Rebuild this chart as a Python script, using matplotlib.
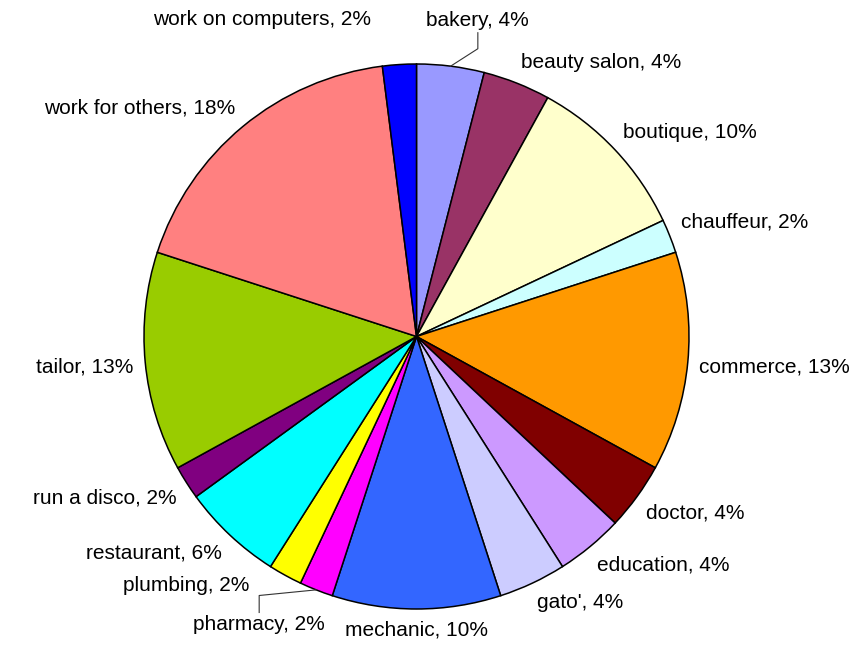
import numpy as np
import matplotlib.pyplot as plt

plt.rcParams['font.family'] = ['Liberation Sans', 'DejaVu Sans']

# Slices, clockwise from 12 o'clock
jobs = ["bakery", "beauty salon", "boutique", "chauffeur", "commerce", "doctor",
        "education", "gato'", "mechanic", "pharmacy", "plumbing", "restaurant",
        "run a disco", "tailor", "work for others", "work on computers"]
shares = [4, 4, 10, 2, 13, 4, 4, 4, 10, 2, 2, 6, 2, 13, 18, 2]
colors = ["#9999FF", "#993366", "#FFFFCC", "#CCFFFF", "#FF9900", "#800000",
          "#CC99FF", "#CCCCFF", "#3366FF", "#FF00FF", "#FFFF00", "#00FFFF",
          "#800080", "#99CC00", "#FF8080", "#0000FF"]

# labels dragged away from their default spot (in pie radii)
moved = {"bakery": (0.0, 0.092),
         "work on computers": (-0.40, 0.088),
         "pharmacy": (0.048, -0.055),
         "plumbing": (-0.11, 0.033)}
leader = {"bakery": "up", "pharmacy": "down"}

fig = plt.figure(figsize=(8.55, 6.54), dpi=100)
fig.patch.set_facecolor("white")
ax = fig.add_axes([144 / 855, 45 / 654, 545 / 855, 545 / 654])

wedges, _ = ax.pie(shares, colors=colors, startangle=90, counterclock=False,
                   radius=1, wedgeprops=dict(edgecolor="black", linewidth=1.1))
ax.set_xlim(-1, 1)
ax.set_ylim(-1, 1)
ax.set_aspect("auto")
ax.axis("off")

renderer = fig.canvas.get_renderer()
px = 545 / 2  # pixels per unit radius
gap = 0.042

for w, job, pct in zip(wedges, jobs, shares):
    theta = np.deg2rad((w.theta1 + w.theta2) / 2)
    c, s = np.cos(theta), np.sin(theta)
    t = ax.text(0, 0, f"{job}, {pct}%", ha="center", va="center",
                fontsize=15, color="black", clip_on=False)
    bb = t.get_window_extent(renderer)
    hw = bb.width / 2 / px
    hh = bb.height / 2 / px
    x = (1 + gap) * c + hw * np.clip(c / 0.25, -1, 1)
    y = (1 + gap) * s + hh * np.clip(s / 0.25, -1, 1)
    dx, dy = moved.get(job, (0, 0))
    x += dx
    y += dy
    t.set_position((x, y))

    if job in leader:
        if leader[job] == "up":
            end = y - hh - 3 / px
            knee = end - 16 / px
        else:
            end = y + hh + 3 / px
            knee = end + 17 / px
        ax.plot([c, x, x], [s, knee, end], color="#333333", lw=0.8,
                clip_on=False)

fig.savefig("out.png", dpi=100, facecolor="white")
